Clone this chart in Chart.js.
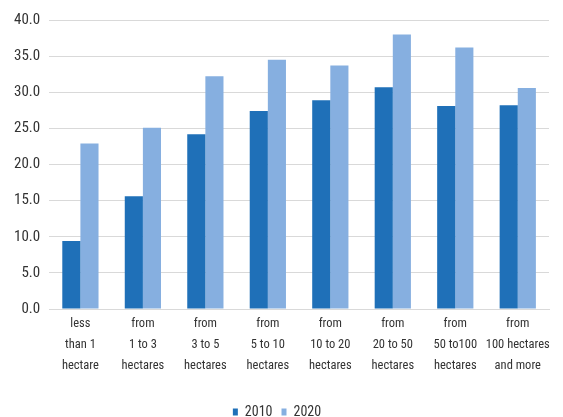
<!DOCTYPE html>
<html>
<head>
<meta charset="utf-8">
<script src="https://cdn.jsdelivr.net/npm/chart.js@4"></script>
<style>
    html, body { margin: 0; padding: 0; background: #fff; }
    #wrap { width: 563px; height: 417px; }
</style>
</head>
<body>
<div id="wrap"><canvas id="farm-chart"></canvas></div>
<script>
// farm size groups, one label line per array entry
const categories = [
    ['less', 'than 1', 'hectare'],
    ['from', '1 to 3', 'hectares'],
    ['from', '3 to 5', 'hectares'],
    ['from', '5 to 10', 'hectares'],
    ['from', '10 to 20', 'hectares'],
    ['from', '20 to 50', 'hectares'],
    ['from', '50 to100', 'hectares'],
    ['from', '100 hectares', 'and more']
];
const values2010 = [9.4, 15.6, 24.2, 27.4, 28.9, 30.7, 28.1, 28.2];
const values2020 = [22.9, 25.1, 32.2, 34.5, 33.7, 38.0, 36.2, 30.6];
const yTicks = [0, 5, 10, 15, 20, 25, 30, 35, 40];

const FONT = '"Roboto Condensed", Roboto, sans-serif';

document.addEventListener('DOMContentLoaded', () => {
    const ctx = document.getElementById('farm-chart').getContext('2d');
    new Chart(ctx, {
        type: 'bar',
        data: {
            labels: categories,
            datasets: [{
                label: '2010',
                data: values2010,
                backgroundColor: '#1f70b8'
            }, {
                label: '2020',
                data: values2020,
                backgroundColor: '#86afe0'
            }]
        },
        options: {
            responsive: true,
            maintainAspectRatio: false,
            animation: false,
            // negative bottom pushes the legend's built-in 10px gap off the canvas
            layout: { padding: { top: 20, right: 14, left: 5, bottom: -12 } },
            datasets: {
                bar: { barPercentage: 1.0, categoryPercentage: 0.58 }
            },
            plugins: {
                tooltip: { enabled: false },
                legend: {
                    position: 'bottom',
                    labels: {
                        boxWidth: 5,
                        boxHeight: 7,
                        padding: 9,
                        color: '#333',
                        font: { family: FONT, size: 14, lineHeight: 1 }
                    }
                }
            },
            scales: {
                x: {
                    grid: { display: false, drawTicks: false },
                    border: { color: '#d9d9d9' },
                    ticks: {
                        color: '#333',
                        maxRotation: 0,
                        autoSkip: false,
                        padding: 4,
                        font: { family: FONT, size: 12.5, lineHeight: 1.68 }
                    },
                    afterFit(scale) {
                        scale.height += 16;
                    }
                },
                y: {
                    min: 0,
                    max: 40,
                    afterBuildTicks(scale) {
                        scale.ticks = yTicks.map(v => ({ value: v }));
                    },
                    grid: { color: '#d9d9d9', drawTicks: false },
                    border: { display: false },
                    ticks: {
                        color: '#333',
                        padding: 9,
                        font: { family: FONT, size: 15 },
                        callback: v => v.toFixed(1)
                    }
                }
            }
        }
    });
});
</script>
</body>
</html>
